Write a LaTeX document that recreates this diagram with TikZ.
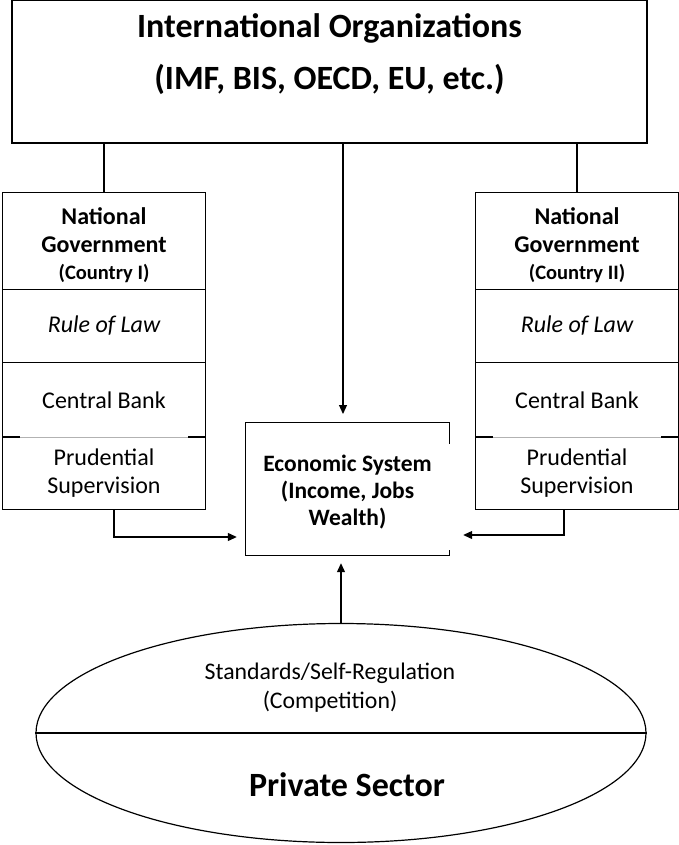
\documentclass[tikz,border=0pt]{standalone}
\usepackage{fontspec}
\setmainfont{Carlito}
\usetikzlibrary{positioning,shapes.geometric,arrows.meta}
\tikzset{
  box/.style={rectangle,draw,line width=1.2pt,align=center,inner sep=0pt},
  cell/.style={rectangle,align=center,inner sep=0pt,minimum width=202pt},
  fl/.style={-{Triangle[length=9pt,width=8pt]},line width=1.2pt},
  ln/.style={line width=1.2pt},
}
\begin{document}
\begin{tikzpicture}[x=1pt,y=-1pt]
  \useasboundingbox (0,0) rectangle (679,845);
  % international level
  \node[box,minimum width=635pt,minimum height=143pt] (org) at (329.5,71.5) {};
  \node[font=\fontsize{34}{40}\bfseries] (orgt) at (329.5,28) {International Organizations};
  \node[font=\fontsize{34}{40}\bfseries] (orgs) at (329.5,79) {(IMF, BIS, OECD, EU, etc.)};
  % national governments
  \foreach \g/\x/\c in {gl/104/I,gr/577/II}{
    \node[cell,minimum height=96pt] (\g1) at (\x,241) {};
    \node[align=center,font=\fontsize{24}{28}\bfseries,yshift=-4pt] (\g1t) at (\g1)
      {National\\Government\\[-1pt]{\fontsize{20.5}{24}\selectfont (Country \c)}};
    \node[cell,minimum height=73pt,below=0pt of \g1,font=\fontsize{24}{28}\itshape] (\g2) {Rule of Law};
    \node[cell,minimum height=74pt,below=0pt of \g2,font=\fontsize{24}{28}\selectfont] (\g3) {Central Bank};
    \node[cell,minimum height=72pt,below=0pt of \g3,font=\fontsize{24}{28}\selectfont] (\g4) {Prudential\\Supervision};
    \draw[ln] (\g1.north west) rectangle (\g4.south east);
    \draw[ln] (\g1.south west) -- (\g1.south east);
    \draw[ln] (\g2.south west) -- (\g2.south east);
    \draw[ln] (\g3.south west) -- ++(17,0);
    \draw[ln] (\g3.south east) -- ++(-17,0);
    \draw[gray!60,line width=0.6pt] ([xshift=17pt]\g3.south west) -- ([xshift=-17pt]\g3.south east);
    \draw[ln] (org.south -| \g1.north) -- (\g1.north);
  }
  % economic system
  \node[minimum width=203pt,minimum height=132pt,inner sep=0pt] (eco) at (347.5,489) {};
  \node[align=center,font=\fontsize{23.5}{27}\bfseries,yshift=-3.5pt] (ecot) at (eco)
    {Economic System\\(Income, Jobs\\Wealth)};
  \draw[ln] ([yshift=-21pt]eco.north east) -- (eco.north east) -- (eco.north west)
    -- (eco.south west) -- (eco.south east) -- ++(0,-5);
  % private sector
  \node[ellipse,draw,line width=1.2pt,minimum width=610pt,minimum height=219pt,inner sep=0pt] (ps) at (341,733) {};
  \draw[ln] (ps.west) -- (ps.east);
  \node[align=center,font=\fontsize{23.8}{29}\selectfont] (std) at (330,688) {Standards/Self-Regulation\\(Competition)};
  \node[font=\fontsize{34}{40}\bfseries] (pst) at (347,785) {Private Sector};
  % connectors
  \draw[fl] (org.south -| 343,0) -- (343,414);
  \draw[fl] (ps.north) -- ([yshift=-8pt]eco.south -| ps.north);
  \draw[fl] ([xshift=10pt]gl4.south) |- ([xshift=-9pt]eco.west |- 0,537);
  \draw[fl] ([xshift=-13pt]gr4.south) |- ([xshift=14pt]eco.east |- 0,535);
\end{tikzpicture}
\end{document}
